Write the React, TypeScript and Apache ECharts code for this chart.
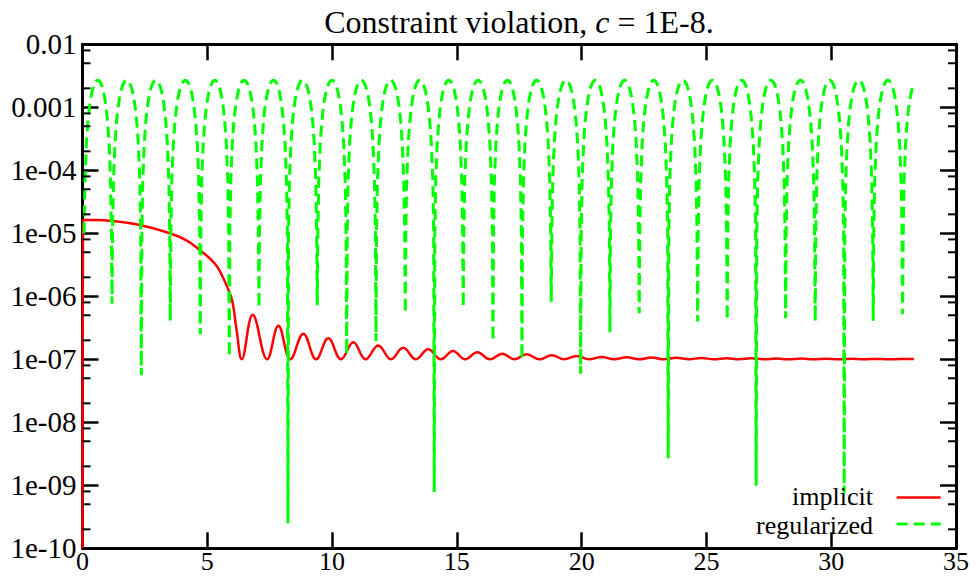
import React, { useEffect, useRef } from "react";
import * as echarts from "echarts";

// ---- data ----
const xTickValues = [0, 5, 10, 15, 20, 25, 30, 35];
const yTickLabels = ["1e-10", "1e-09", "1e-08", "1e-07", "1e-06", "1e-05", "1e-04", "0.001", "0.01"];
const minorTickValues = [
  2e-10, 5e-10, 8e-10, 2e-9, 5e-9, 8e-9, 2e-8, 5e-8, 8e-8, 2e-7, 5e-7, 8e-7,
  2e-6, 5e-6, 8e-6, 2e-5, 5e-5, 8e-5, 2e-4, 5e-4, 8e-4, 2e-3, 5e-3, 8e-3,
];

// implicit (red)
const implicitX = [
  0, 0.02, 0.5, 1.2, 2.3, 3.5, 4.2, 4.7, 5.1, 5.4, 5.6, 5.8, 6.0, 6.18, 6.38,
  6.82, 7.4, 7.85, 8.33, 8.85, 9.36, 9.85, 10.36, 10.85, 11.34, 11.85, 12.36,
  12.85, 13.36, 13.85, 14.36, 14.84, 15.33, 15.82, 16.33, 16.82, 17.31, 17.8, 18.3,
  18.8, 19.3, 19.8, 20.3, 20.8, 21.3, 21.8, 22.3, 22.8, 23.3, 23.8, 24.3,
  24.8, 25.3, 25.8, 26.3, 26.8, 27.3, 27.8, 28.3, 28.8, 29.3, 29.8, 30.3,
  30.8, 31.3, 31.8, 32.3, 32.8, 33.31,
];
const implicitY = [
  1e-10, 1.63e-5, 1.63e-5, 1.57e-5, 1.35e-5, 1.0e-5, 7.6e-6, 5.4e-6, 4.0e-6, 2.95e-6, 2.1e-6, 1.4e-6, 8.5e-7, 2.8e-7, 1.0e-7,
  5.1e-7, 1e-7, 3.4e-7, 1e-7, 2.55e-7, 1e-7, 2.15e-7, 1e-7, 1.86e-7, 1e-7, 1.66e-7, 1e-7,
  1.52e-7, 1e-7, 1.44e-7, 1e-7, 1.36e-7, 1e-7, 1.29e-7, 1e-7, 1.23e-7, 1e-7, 1.2e-7, 1e-7,
  1.16e-7, 1e-7, 1.13e-7, 1e-7, 1.09e-7, 1e-7, 1.08e-7, 1e-7, 1.065e-7, 1e-7, 1.055e-7, 1e-7,
  1.05e-7, 1e-7, 1.04e-7, 1e-7, 1.035e-7, 1e-7, 1.03e-7, 1e-7, 1.025e-7, 1e-7, 1.02e-7, 1e-7,
  1.02e-7, 1e-7, 1.015e-7, 1e-7, 1.01e-7, 1.01e-7,
];

// regularized (green): dip positions and depths, arc peak and arc profile
const regStart = [0.04, 1.0e-5];
const regDipX = [
  1.182, 2.356, 3.518, 4.72, 5.881, 7.071, 8.233, 9.407, 10.585, 11.759, 12.933, 14.095, 15.256, 16.446,
  17.608, 18.782, 19.96, 21.134, 22.308, 23.47, 24.647, 25.833, 26.995, 28.173, 29.359, 30.521, 31.683, 32.861,
];
const regDipMin = [
  7.6e-7, 5.6e-8, 4.1e-7, 2.5e-7, 1.1e-7, 6.6e-7, 2.5e-10, 7.2e-7, 1.2e-7, 1.95e-7, 5.4e-7, 7.8e-10, 6.7e-7, 1.95e-7,
  1.0e-7, 8.2e-7, 5.9e-8, 2.7e-7, 5.4e-7, 2.7e-9, 4.0e-7, 4.2e-7, 9.8e-10, 4.5e-7, 4.0e-7, 7.6e-10, 4.1e-7, 5.2e-7,
];
const regPeak = 2.7e-3;
const arcFrac = [0.02, 0.05, 0.1, 0.15, 0.2, 0.25, 0.3, 0.35, 0.4, 0.45, 0.5];
const arcDrop = [2.4, 1.61, 1.02, 0.69, 0.46, 0.3, 0.18, 0.1, 0.044, 0.011, 0];
const regEnd = [33.29, 2.3e-3];

const FONT = "'Liberation Serif', 'Times New Roman', serif";

function buildRegularized(): number[][] {
  const dips = [regStart[0], ...regDipX];
  const mins = [regStart[1], ...regDipMin];
  const out: number[][] = [];
  for (let k = 0; k < dips.length - 1; k++) {
    out.push([dips[k], mins[k]]);
    const P = dips[k + 1] - dips[k];
    for (let j = 0; j < arcFrac.length; j++) {
      out.push([dips[k] + arcFrac[j] * P, regPeak * Math.pow(10, -arcDrop[j])]);
    }
    for (let j = arcFrac.length - 2; j >= 0; j--) {
      out.push([dips[k + 1] - arcFrac[j] * P, regPeak * Math.pow(10, -arcDrop[j])]);
    }
  }
  const last = dips.length - 1;
  out.push([dips[last], mins[last]]);
  const P = dips[last] - dips[last - 1];
  for (let j = 0; j < arcFrac.length; j++) {
    const x = dips[last] + arcFrac[j] * P;
    if (x >= regEnd[0]) break;
    out.push([x, regPeak * Math.pow(10, -arcDrop[j])]);
  }
  out.push([regEnd[0], regEnd[1]]);
  return out;
}

export default function App() {
  const ref = useRef<HTMLDivElement>(null);
  useEffect(() => {
    document.body.style.margin = "0";
    const chart = echarts.init(ref.current!, null, { renderer: "svg" });
    const implicitData = implicitX.map((x, i) => [x, implicitY[i]]);
    const regData = buildRegularized();
    const axisLine = { show: true, onZero: false, lineStyle: { color: "#000", width: 3 } };
    const tick = { show: true, inside: true, length: 16, lineStyle: { color: "#000", width: 2.5 } };
    const label = { fontFamily: FONT, fontSize: 29, color: "#000" };
    chart.setOption({
      animation: false,
      backgroundColor: "#fff",
      grid: { left: 82.5, right: 21, top: 44.3, bottom: 27.7, containLabel: false, outerBoundsMode: "none" },
      xAxis: [
        {
          type: "value", min: 0, max: 35, interval: 5, position: "bottom",
          axisLine, axisTick: tick, splitLine: { show: false },
          axisLabel: {
            ...label, fontSize: 26, margin: 0, lineHeight: 26, verticalAlign: "top",
            formatter: (v: number) => (xTickValues.includes(v) ? String(v) : ""),
          },
        },
        {
          type: "value", min: 0, max: 35, interval: 5, position: "top",
          axisLine, axisTick: tick, splitLine: { show: false }, axisLabel: { show: false },
        },
      ],
      yAxis: [
        {
          type: "log", logBase: 10, min: 1e-10, max: 1e-2, splitNumber: 8, position: "left",
          axisLine, axisTick: tick, splitLine: { show: false },
          axisLabel: {
            ...label, margin: 6,
            formatter: (v: number) => yTickLabels[Math.round(Math.log10(v)) + 10] ?? "",
          },
        },
        {
          type: "log", logBase: 10, min: 1e-10, max: 1e-2, splitNumber: 8, position: "right",
          axisLine, axisTick: tick, splitLine: { show: false }, axisLabel: { show: false },
        },
      ],
      series: [
        {
          name: "implicit", type: "line", data: implicitData, showSymbol: false, smooth: 0.4,
          lineStyle: { color: "#ff0000", width: 2.5 }, itemStyle: { color: "#ff0000" }, z: 3,
        },
        {
          name: "regularized", type: "line", data: regData, showSymbol: false, smooth: false,
          lineStyle: { color: "#00ff00", width: 3, type: [11, 6] }, itemStyle: { color: "#00ff00" }, z: 4,
        },
        {
          type: "custom", silent: true, clip: false, z: 5,
          data: minorTickValues.map((v) => [0, v]),
          renderItem: (_p: any, api: any) => {
            const v = api.value(1);
            const l = api.coord([0, v]);
            const r = api.coord([35, v]);
            const st = { stroke: "#000", lineWidth: 2 };
            return {
              type: "group",
              children: [
                { type: "line", shape: { x1: l[0], y1: l[1], x2: l[0] + 8, y2: l[1] }, style: st },
                { type: "line", shape: { x1: r[0], y1: r[1], x2: r[0] - 8, y2: r[1] }, style: st },
              ],
            };
          },
        },
      ],
      graphic: [
        {
          type: "text", x: 519, y: 22, z: 10,
          style: {
            text: "{n|Constraint violation, }{i|c}{n| = 1E-8.}",
            align: "center", verticalAlign: "middle",
            rich: {
              n: { fontFamily: FONT, fontSize: 32, fill: "#000", color: "#000" },
              i: { fontFamily: FONT, fontSize: 32, fontStyle: "italic", fill: "#000", color: "#000" },
            },
          },
        },
        {
          type: "text", x: 873, y: 496, z: 10,
          style: {
            text: "implicit", align: "right", verticalAlign: "middle",
            fontFamily: FONT, fontSize: 26, lineHeight: 20, fill: "#000",
          },
        },
        {
          type: "line", z: 10, shape: { x1: 896.7, y1: 497.5, x2: 940.7, y2: 497.5 },
          style: { stroke: "#ff0000", lineWidth: 2.5 },
        },
        {
          type: "text", x: 873, y: 525, z: 10,
          style: {
            text: "regularized", align: "right", verticalAlign: "middle",
            fontFamily: FONT, fontSize: 26, lineHeight: 20, fill: "#000",
          },
        },
        {
          type: "line", z: 10, shape: { x1: 896.7, y1: 524, x2: 940.7, y2: 524 },
          style: { stroke: "#00ff00", lineWidth: 3, lineDash: [11, 6] },
        },
      ],
    });
    return () => chart.dispose();
  }, []);
  return <div ref={ref} style={{ position: "fixed", left: 0, top: 0, width: 977, height: 576 }} />;
}
